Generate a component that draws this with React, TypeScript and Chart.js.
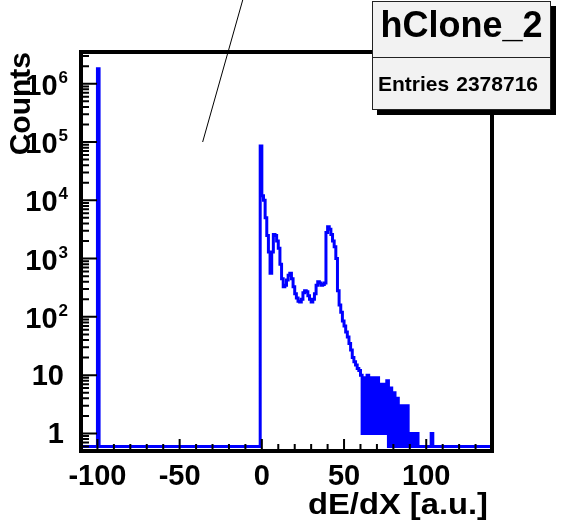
import React, { useEffect, useRef } from "react";
import { Chart, registerables } from "chart.js";

Chart.register(...registerables);

// ---------------- data ----------------
const X_MIN = -110;
const X_MAX = 140;
const BIN_WIDTH = 1;
const Y_MIN = 0.5;
const Y_MAX = 3.5e6;
const ZERO_LEVEL = 0.6; // empty bins are drawn at the bottom of the log axis

// isolated spikes: low edge of bin and count
const SPIKE_BIN_STARTS = [-100, -1];
const SPIKE_COUNTS = [1800000, 85000];

// contiguous bins starting at MAIN_BIN_START
const MAIN_BIN_START = 0;
const MAIN_COUNTS = [
  12000, 10000, 5000, 2500, 1300, 560, 1300, 2600, 2500, 2000,
  1500, 800, 450, 330, 350, 430, 520, 560, 450, 330,
  250, 210, 185, 180, 200, 260, 280, 270, 230, 200,
  180, 200, 250, 350, 400, 380, 350, 360, 380, 2800,
  3500, 3200, 2600, 2000, 1600, 1000, 280, 160, 120, 85,
  70, 55, 45, 35, 27, 20, 17, 15, 13, 12,
  10, 1, 9, 1, 10, 1, 9, 1, 9, 1,
  9, 1, 7, 1, 7, 1, 8, 0, 6, 0,
  5, 0, 4, 0, 3, 0, 3, 0, 3, 0,
  1, 0, 1, 0, 1, 0, 0, 0, 0, 0,
  0, 0, 0, 1,
];

const X_TICK_VALUES = [-100, -50, 0, 50, 100];
const X_TICK_LABELS = ["-100", "-50", "0", "50", "100"];
const X_MAJOR_STEP = 50;
const X_MINOR_STEP = 10;

const Y_TICK_VALUES = [1, 10, 100, 1000, 10000, 100000, 1000000];
const Y_TICK_LABELS = ["1", "10", "10^2", "10^3", "10^4", "10^5", "10^6"];

const X_TITLE = "dE/dX [a.u.]";
const Y_TITLE = "Counts";
const STATS_NAME = "hClone_2";
const STATS_LABEL = "Entries";
const STATS_VALUE = "2378716";

// stray annotation line (data coordinates)
const NOTE_LINE = { x1: -36, y1: 1e5, x2: -9, y2: 5e7 };

const FONT = '"Liberation Sans", Arial, Helvetica, sans-serif';

function buildPoints() {
  const n = Math.round((X_MAX - X_MIN) / BIN_WIDTH);
  const bins: number[] = new Array(n).fill(0);
  SPIKE_BIN_STARTS.forEach((s, i) => {
    bins[Math.round((s - X_MIN) / BIN_WIDTH)] = SPIKE_COUNTS[i];
  });
  MAIN_COUNTS.forEach((c, i) => {
    bins[Math.round((MAIN_BIN_START - X_MIN) / BIN_WIDTH) + i] = c;
  });
  const pts = bins.map((c, i) => ({
    x: X_MIN + i * BIN_WIDTH,
    y: c > 0 ? c : ZERO_LEVEL,
  }));
  pts.push({ x: X_MAX, y: pts[pts.length - 1].y });
  return pts;
}

const decorPlugin = {
  id: "rootDecor",
  afterDatasetsDraw(chart: any) {
    const { ctx, chartArea: a, scales } = chart;
    const xs = scales.x;
    const ys = scales.y;
    ctx.save();
    // frame
    ctx.strokeStyle = "#000";
    ctx.lineWidth = 4;
    ctx.strokeRect(a.left, a.top, a.right - a.left, a.bottom - a.top);

    // x ticks (inward)
    ctx.lineWidth = 2;
    ctx.beginPath();
    for (let v = X_MIN; v <= X_MAX; v += X_MINOR_STEP) {
      const px = xs.getPixelForValue(v);
      const major = v % X_MAJOR_STEP === 0;
      ctx.moveTo(px, a.bottom);
      ctx.lineTo(px, a.bottom - (major ? 12 : 7));
    }
    // y ticks (inward)
    for (let d = -1; d <= 7; d++) {
      for (let m = 1; m <= 9; m++) {
        const val = m * Math.pow(10, d);
        if (val < Y_MIN * 0.999 || val > Y_MAX) continue;
        const py = ys.getPixelForValue(val);
        ctx.moveTo(a.left, py);
        ctx.lineTo(a.left + (m === 1 ? 16 : 8), py);
      }
    }
    ctx.stroke();

    // x tick labels
    ctx.fillStyle = "#000";
    ctx.font = `bold 29px ${FONT}`;
    ctx.textAlign = "center";
    ctx.textBaseline = "alphabetic";
    X_TICK_VALUES.forEach((v, i) => {
      ctx.fillText(X_TICK_LABELS[i], xs.getPixelForValue(v), 485);
    });

    // y tick labels
    Y_TICK_VALUES.forEach((v, i) => {
      const py = ys.getPixelForValue(v);
      const lab = Y_TICK_LABELS[i];
      if (lab.includes("^")) {
        const [base, exp] = lab.split("^");
        ctx.font = `bold 17px ${FONT}`;
        ctx.textAlign = "right";
        const ew = ctx.measureText(exp).width;
        ctx.fillText(exp, 68, py - 1);
        ctx.font = `bold 29px ${FONT}`;
        ctx.fillText(base, 68 - ew - 1, py + 11);
      } else {
        ctx.font = `bold 29px ${FONT}`;
        ctx.textAlign = "right";
        ctx.fillText(lab, 64, py + 10);
      }
    });

    // x axis title (slightly widened like the original rendering)
    ctx.save();
    ctx.font = `bold 29px ${FONT}`;
    const tw = ctx.measureText(X_TITLE).width;
    const targetW = 180;
    ctx.translate(a.right - 4, 514);
    ctx.scale(targetW / tw, 1);
    ctx.textAlign = "right";
    ctx.fillText(X_TITLE, 0, 0);
    ctx.restore();

    // y axis title
    ctx.save();
    ctx.translate(30, a.top);
    ctx.rotate(-Math.PI / 2);
    ctx.font = `bold 30px ${FONT}`;
    ctx.textAlign = "right";
    ctx.fillText(Y_TITLE, 0, 0);
    ctx.restore();

    // annotation line
    ctx.lineWidth = 1;
    ctx.strokeStyle = "#000";
    ctx.beginPath();
    ctx.moveTo(xs.getPixelForValue(NOTE_LINE.x1), ys.getPixelForValue(NOTE_LINE.y1));
    ctx.lineTo(xs.getPixelForValue(NOTE_LINE.x2), ys.getPixelForValue(NOTE_LINE.y2));
    ctx.stroke();

    ctx.restore();
  },
  afterDraw(chart: any) {
    const { ctx } = chart;
    ctx.save();
    const bx = 372, by = 1, bw = 179, bh = 109;
    // shadow
    ctx.fillStyle = "#000";
    ctx.fillRect(bx + 5, by + 5, bw, bh);
    // box
    ctx.fillStyle = "#f2f2f2";
    ctx.fillRect(bx, by, bw, bh);
    ctx.strokeStyle = "#222";
    ctx.lineWidth = 1;
    ctx.strokeRect(bx + 0.5, by + 0.5, bw - 1, bh - 1);
    ctx.beginPath();
    ctx.moveTo(bx, 57.5);
    ctx.lineTo(bx + bw, 57.5);
    ctx.stroke();
    ctx.fillStyle = "#000";
    ctx.font = `bold 36px ${FONT}`;
    ctx.textAlign = "center";
    ctx.textBaseline = "alphabetic";
    ctx.fillText(STATS_NAME, bx + bw / 2, 37);
    ctx.font = `bold 21px ${FONT}`;
    ctx.textAlign = "left";
    ctx.fillText(STATS_LABEL, 378, 91);
    ctx.textAlign = "right";
    ctx.fillText(STATS_VALUE, 538, 91);
    ctx.restore();
  },
};

export default function App() {
  const ref = useRef<HTMLCanvasElement | null>(null);
  useEffect(() => {
    document.body.style.margin = "0";
    const canvas = ref.current;
    if (!canvas) return;
    const chart = new Chart(canvas, {
      type: "line",
      data: {
        datasets: [
          {
            data: buildPoints(),
            borderColor: "#0000ff",
            borderWidth: 3,
            pointRadius: 0,
            stepped: true,
            fill: false,
            tension: 0,
          },
        ],
      },
      options: {
        responsive: false,
        animation: false,
        devicePixelRatio: 1,
        layout: { padding: { top: 52, right: 70, left: 0, bottom: 0 } },
        plugins: { legend: { display: false }, tooltip: { enabled: false }, title: { display: false } },
        scales: {
          x: {
            type: "linear",
            min: X_MIN,
            max: X_MAX,
            ticks: { display: false },
            grid: { display: false },
            border: { display: false },
            afterFit: (s: any) => {
              s.height = 74;
            },
          },
          y: {
            type: "logarithmic",
            min: Y_MIN,
            max: Y_MAX,
            ticks: { display: false },
            grid: { display: false },
            border: { display: false },
            afterFit: (s: any) => {
              s.width = 81;
            },
          },
        },
      },
      plugins: [decorPlugin],
    } as any);
    return () => chart.destroy();
  }, []);
  return (
    <div style={{ position: "absolute", left: 0, top: 0, width: 562, height: 525, background: "#fff" }}>
      <canvas ref={ref} width={562} height={525} style={{ width: 562, height: 525, display: "block" }} />
    </div>
  );
}
